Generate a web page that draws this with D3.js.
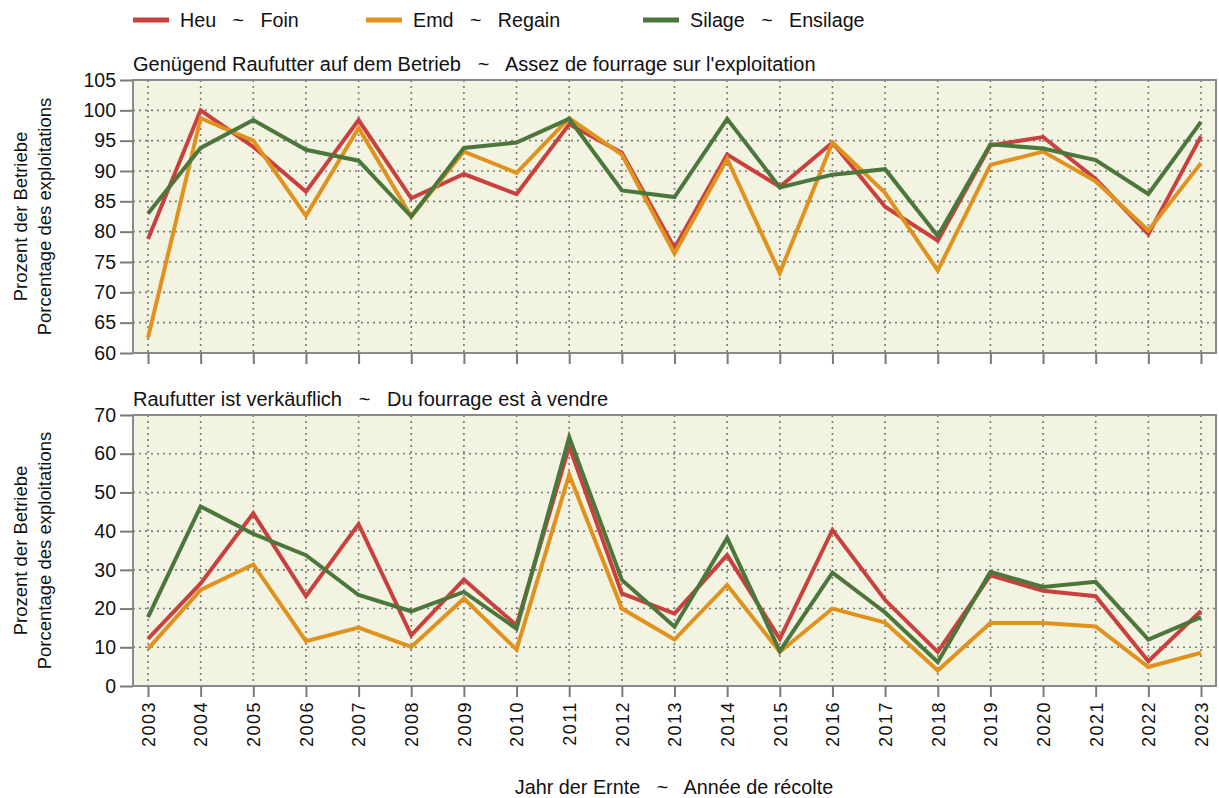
<!DOCTYPE html>
<html>
<head>
<meta charset="utf-8">
<script src="https://cdn.jsdelivr.net/npm/d3@7"></script>
<style>
  body { margin: 0; background: #fff; }
  text { font-family: "Liberation Sans", Arial, sans-serif; fill: #111; white-space: pre; }
</style>
</head>
<body>
<div class="main-container"></div>
<script>
const years = d3.range(2003, 2024);

// Genügend Raufutter auf dem Betrieb (%)
const enoughHeu = [78.8, 100, 94.0, 86.6, 98.4, 85.5, 89.5, 86.2, 97.7, 93.0, 77.3, 92.7, 87.4, 94.7, 84.1, 78.5, 94.2, 95.6, 88.7, 79.6, 95.7];
const enoughEmd = [62.5, 98.7, 95.0, 82.6, 97.1, 82.5, 93.2, 89.7, 98.7, 92.7, 76.4, 92.0, 73.2, 94.7, 86.4, 73.6, 91.0, 93.2, 88.3, 80.2, 91.3];
const enoughSilage = [83.0, 93.8, 98.4, 93.5, 91.7, 82.5, 93.8, 94.7, 98.6, 86.8, 85.7, 98.6, 87.3, 89.4, 90.3, 79.3, 94.4, 93.7, 91.8, 86.2, 98.1];

// Raufutter ist verkäuflich (%)
const saleHeu = [12.2, 26.5, 44.6, 23.2, 41.8, 13.1, 27.5, 15.7, 61.9, 23.9, 18.7, 33.8, 12.2, 40.3, 22.2, 8.8, 28.6, 24.6, 23.2, 6.4, 19.4];
const saleEmd = [9.6, 24.8, 31.4, 11.6, 15.1, 10.1, 22.6, 9.4, 54.6, 20.0, 12.0, 26.1, 8.8, 20.0, 16.4, 4.0, 16.3, 16.3, 15.4, 4.9, 8.6];
const saleSilage = [17.8, 46.4, 39.3, 33.8, 23.5, 19.3, 24.3, 14.8, 64.3, 27.4, 15.3, 38.2, 9.0, 29.3, 19.0, 6.2, 29.5, 25.6, 26.9, 12.0, 17.8];

const seriesNames = ["Heu   ~   Foin", "Emd   ~   Regain", "Silage   ~   Ensilage"];
const seriesColors = ["#c8413f", "#e0921f", "#4b773c"];

const topTicks = d3.range(60, 106, 5);
const bottomTicks = d3.range(0, 71, 10);

const width = 1219, height = 798;
const plotLeft = 133, plotRight = 1216;

const svg = d3.select(".main-container")
  .append("svg")
  .attr("width", width)
  .attr("height", height);

const x = d3.scalePoint()
  .domain(years)
  .range([plotLeft, plotRight])
  .padding(0.285);

const panels = [
  {title: "Genügend Raufutter auf dem Betrieb   ~   Assez de fourrage sur l'exploitation",
   top: 80, bottom: 353, domain: [60, 105], ticks: topTicks,
   data: [enoughHeu, enoughEmd, enoughSilage], labels: false},
  {title: "Raufutter ist verkäuflich   ~   Du fourrage est à vendre",
   top: 415, bottom: 686, domain: [0, 70], ticks: bottomTicks,
   data: [saleHeu, saleEmd, saleSilage], labels: true}
];

panels.forEach(p => {
  const y = d3.scaleLinear().domain(p.domain).range([p.bottom, p.top]);
  const g = svg.append("g");

  g.append("rect")
    .attr("x", plotLeft)
    .attr("y", p.top)
    .attr("width", plotRight - plotLeft)
    .attr("height", p.bottom - p.top)
    .attr("fill", "#f3f3e1");

  // dotted grid
  g.selectAll("line.hgrid")
    .data(p.ticks.slice(1, -1))
    .join("line")
    .attr("x1", plotLeft).attr("x2", plotRight)
    .attr("y1", d => y(d)).attr("y2", d => y(d))
    .attr("stroke", "#7a7a7a")
    .attr("stroke-width", 1.6)
    .attr("stroke-dasharray", "2,4");

  g.selectAll("line.vgrid")
    .data(years)
    .join("line")
    .attr("x1", d => x(d)).attr("x2", d => x(d))
    .attr("y1", p.top).attr("y2", p.bottom)
    .attr("stroke", "#7a7a7a")
    .attr("stroke-width", 1.6)
    .attr("stroke-dasharray", "2,4");

  // series
  const line = d3.line()
    .x((d, i) => x(years[i]))
    .y(d => y(d));

  p.data.forEach((vals, k) => {
    g.append("path")
      .datum(vals)
      .attr("fill", "none")
      .attr("stroke", seriesColors[k])
      .attr("stroke-width", 4)
      .attr("d", line);
  });

  // frame
  g.append("rect")
    .attr("x", plotLeft)
    .attr("y", p.top)
    .attr("width", plotRight - plotLeft)
    .attr("height", p.bottom - p.top)
    .attr("fill", "none")
    .attr("stroke", "#8a8a8a")
    .attr("stroke-width", 2);

  // y axis
  const yAxis = g.append("g")
    .attr("transform", "translate(" + plotLeft + ",0)")
    .call(d3.axisLeft(y).tickValues(p.ticks).tickSize(13).tickPadding(4));
  yAxis.select(".domain").remove();
  yAxis.selectAll("line").attr("stroke", "#7a7a7a").attr("stroke-width", 2);
  yAxis.selectAll("text")
    .style("font-size", "19.5px")
    .style("font-family", "'Liberation Sans', Arial, sans-serif")
    .attr("fill", "#111");

  // x axis
  const xAxis = g.append("g")
    .attr("transform", "translate(0," + p.bottom + ")")
    .call(d3.axisBottom(x).tickSize(11).tickFormat(p.labels ? d3.format("d") : ""));
  xAxis.select(".domain").remove();
  xAxis.selectAll("line").attr("stroke", "#7a7a7a").attr("stroke-width", 2);
  if (p.labels) {
    xAxis.selectAll("text")
      .style("font-size", "18px")
      .style("letter-spacing", "1.5px")
      .style("font-family", "'Liberation Sans', Arial, sans-serif")
      .attr("fill", "#111")
      .attr("text-anchor", "end")
      .attr("transform", "rotate(-90)")
      .attr("x", -15)
      .attr("y", 0)
      .attr("dy", "0.35em");
  }

  g.append("text")
    .attr("x", plotLeft)
    .attr("y", p.top - 9)
    .style("font-size", "20px")
    .text(p.title);

  // y axis title
  const cy = (p.top + p.bottom) / 2;
  g.append("text")
    .attr("transform", "translate(27," + cy + ") rotate(-90)")
    .attr("text-anchor", "middle")
    .style("font-size", "18.5px")
    .text("Prozent der Betriebe");
  g.append("text")
    .attr("transform", "translate(51," + cy + ") rotate(-90)")
    .attr("text-anchor", "middle")
    .style("font-size", "18.5px")
    .text("Porcentage des exploitations");
});

// legend
const legendX = [133, 366, 643];
const legend = svg.append("g");
seriesNames.forEach((name, k) => {
  legend.append("line")
    .attr("x1", legendX[k]).attr("x2", legendX[k] + 36)
    .attr("y1", 20).attr("y2", 20)
    .attr("stroke", seriesColors[k])
    .attr("stroke-width", 5);
  legend.append("text")
    .attr("x", legendX[k] + 47)
    .attr("y", 27)
    .style("font-size", "19.7px")
    .text(name);
});

svg.append("text")
  .attr("x", 674)
  .attr("y", 794)
  .attr("text-anchor", "middle")
  .style("font-size", "19.8px")
  .text("Jahr der Ernte   ~   Année de récolte");
</script>
</body>
</html>
